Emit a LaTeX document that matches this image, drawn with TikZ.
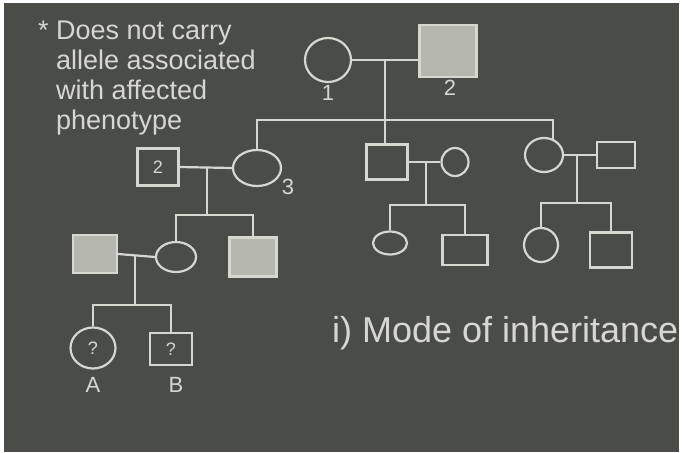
\documentclass[tikz,border=0pt]{standalone}
\usepackage{fontspec}
\setmainfont{Liberation Sans}
\usetikzlibrary{positioning,shapes.geometric}
\definecolor{board}{HTML}{4A4C47}
\definecolor{chalk}{HTML}{D6D7CF}
\definecolor{smear}{HTML}{B6B7AF}

\begin{document}
\begin{tikzpicture}[x=1pt,y=-1pt,
 line width=2.2pt,color=chalk,
 fem/.style={ellipse,draw,inner sep=0pt},
 male/.style={rectangle,draw,inner sep=0pt},
 aff/.style={male,fill=smear},
 lab/.style={text=chalk,inner sep=1pt,font=\fontsize{22}{24}\selectfont},
 qmark/.style={font=\fontsize{18}{18}\selectfont},
 big/.style={lab,font=\fontsize{36}{40}\selectfont}]
 \fill[white] (0,0) rectangle (682,452);
 \fill[board] (4,3) rectangle (679,452);
 \useasboundingbox (0,0) rectangle (682,452);
 % generation I
 \node[fem,minimum width=46pt,minimum height=44pt] (i1) at (328,60) {};
 \node[aff,minimum width=57pt,minimum height=52pt] (i2) at (448,51) {};
 \node[lab] (n1) at (328,93) {1};
 \node[lab] (n2) at (450,88) {2};
 \coordinate (m1) at (385,60); \coordinate (b1) at (385,120);
 % generation II
 \node[male,minimum width=41pt,minimum height=37pt,qmark] (ii1) at (158,167) {2};
 \node[fem,minimum width=48pt,minimum height=36pt] (ii2) at (257,168) {};
 \node[lab] (n3) at (288,187) {3};
 \node[male,minimum width=41pt,minimum height=35pt] (ii3) at (387,162) {};
 \node[fem,minimum width=27pt,minimum height=28pt] (ii4) at (455,162) {};
 \node[fem,minimum width=38pt,minimum height=34pt] (ii5) at (544,155) {};
 \node[male,minimum width=38pt,minimum height=26pt] (ii6) at (616,155) {};
 \coordinate (m2) at (207,168); \coordinate (b2) at (207,215);
 \coordinate (m3) at (426,162); \coordinate (b3) at (426,205);
 \coordinate (m4) at (577,156); \coordinate (b4) at (577,203);
 % generation III
 \node[aff,minimum width=44pt,minimum height=38pt] (iii1) at (95,254) {};
 \node[fem,minimum width=40pt,minimum height=30pt] (iii2) at (176,257) {};
 \node[aff,minimum width=47pt,minimum height=39pt] (iii3) at (253,257) {};
 \node[fem,minimum width=34pt,minimum height=23pt] (iii4) at (390,243) {};
 \node[male,minimum width=45pt,minimum height=30pt] (iii5) at (465,250) {};
 \node[fem,minimum width=34pt,minimum height=34pt] (iii6) at (541,245) {};
 \node[male,minimum width=42pt,minimum height=35pt] (iii7) at (611,250) {};
 \coordinate (m5) at (135,255); \coordinate (b5) at (135,305);
 % generation IV
 \node[fem,minimum width=45pt,minimum height=41pt,qmark] (iv1) at (93,348) {?};
 \node[male,minimum width=42pt,minimum height=32pt,qmark] (iv2) at (171,349) {?};
 \node[lab] (na) at (93,385) {A};
 \node[lab] (nb) at (176,385) {B};
 % notes
 \node[lab,anchor=north west,align=left,font=\fontsize{27}{30}\selectfont] (note) at (36,19)
  {*~Does not carry\\\phantom{*~}allele associated\\\phantom{*~}with affected\\\phantom{*~}phenotype};
 \node[big,anchor=west] (mode) at (330,333) {i) Mode of inheritance};
 % lines
 \draw (i1.east) -- (i1.east -| i2.west);
 \draw (m1) -- (b1) -- (b1 |- ii3.north);
 \draw (ii2.north) |- (b1) -| (ii5.60);
 \draw (ii1.east) -- (ii2.west); \draw (m2) -- (b2);
 \draw (iii2.north) |- (b2) -| (iii3.north);
 \draw (ii3.east) -- (ii4.west); \draw (m3) -- (b3);
 \draw (iii4.north) |- (b3) -| (iii5.north);
 \draw (ii5.east) -- (ii6.west); \draw (m4) -- (b4);
 \draw (iii6.north) |- (b4) -| (iii7.north);
 \draw (iii1.east) -- (iii2.west); \draw (m5) -- (b5);
 \draw (iv1.north) |- (b5) -| (iv2.north);
\end{tikzpicture}
\end{document}
